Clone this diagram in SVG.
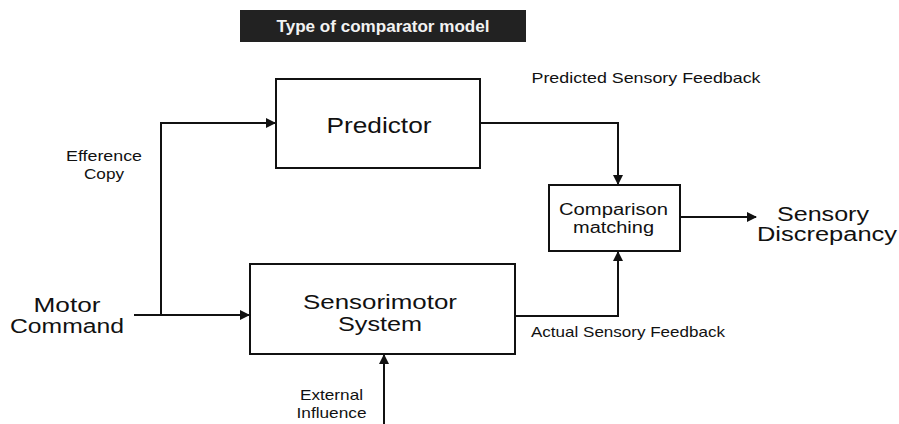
<svg xmlns="http://www.w3.org/2000/svg" width="899" height="424" viewBox="0 0 899 424">
<style>
.box{fill:#fff;stroke:#111;stroke-width:2}
.ln{fill:none;stroke:#111;stroke-width:2}
text{font-family:"Liberation Sans","Noto Sans",Arial,sans-serif;fill:#111;text-anchor:middle}
.big{font-size:21px}
.mid{font-size:16px}
.sm{font-size:15px}
.lbl{font-size:20px}
</style>
<defs>
<marker id="ah" markerWidth="10" markerHeight="10" refX="9" refY="5" orient="auto" markerUnits="userSpaceOnUse">
<path d="M0,0 L10,5 L0,10 z" fill="#111"/>
</marker>
</defs>
<rect x="240" y="10" width="286" height="32" fill="#222"/>
<text x="383" y="32" textLength="213" lengthAdjust="spacingAndGlyphs" style="font-size:16px;font-weight:bold;fill:#f2f2f2">Type of comparator model</text>

<g id="connectors">
<path class="ln" d="M134,315 L249,315" marker-end="url(#ah)"/>
<path class="ln" d="M161,315 L161,123 L275,123" marker-end="url(#ah)"/>
<path class="ln" d="M480,123 L618,123 L618,184" marker-end="url(#ah)"/>
<path class="ln" d="M515,316 L618,316 L618,252" marker-end="url(#ah)"/>
<path class="ln" d="M680,217 L756,217" marker-end="url(#ah)"/>
<path class="ln" d="M384,424 L384,355" marker-end="url(#ah)"/>
</g>

<g id="predictor">
<rect class="box" x="276" y="79" width="204" height="89"/>
<text class="big" x="379" y="132.5" textLength="105" lengthAdjust="spacingAndGlyphs" style="font-size:22px">Predictor</text>
</g>
<g id="sensorimotor">
<rect class="box" x="250" y="264" width="265" height="90"/>
<text class="big" x="380" y="309" textLength="154" lengthAdjust="spacingAndGlyphs">Sensorimotor</text>
<text class="big" x="380" y="331" textLength="84" lengthAdjust="spacingAndGlyphs">System</text>
</g>
<g id="comparison">
<rect class="box" x="549" y="185" width="131" height="66"/>
<text class="mid" x="613.5" y="215" textLength="109" lengthAdjust="spacingAndGlyphs">Comparison</text>
<text class="mid" x="613.5" y="233" textLength="81" lengthAdjust="spacingAndGlyphs">matching</text>
</g>
<g id="motor-command">
<text class="lbl" x="67" y="312" textLength="67" lengthAdjust="spacingAndGlyphs">Motor</text>
<text class="lbl" x="67" y="333" textLength="114" lengthAdjust="spacingAndGlyphs">Command</text>
</g>
<g id="sensory-discrepancy">
<text class="lbl" x="823" y="221" textLength="92" lengthAdjust="spacingAndGlyphs">Sensory</text>
<text class="lbl" x="827" y="241" textLength="140" lengthAdjust="spacingAndGlyphs">Discrepancy</text>
</g>
<g id="labels">
<text class="sm" x="104" y="161" textLength="76" lengthAdjust="spacingAndGlyphs">Efference</text>
<text class="sm" x="104" y="179" textLength="40" lengthAdjust="spacingAndGlyphs">Copy</text>
<text class="sm" x="646" y="83" textLength="229" lengthAdjust="spacingAndGlyphs">Predicted Sensory Feedback</text>
<text class="sm" x="628" y="336.5" textLength="194" lengthAdjust="spacingAndGlyphs">Actual Sensory Feedback</text>
<text class="sm" x="331.5" y="400" textLength="63" lengthAdjust="spacingAndGlyphs">External</text>
<text class="sm" x="331.5" y="418" textLength="70" lengthAdjust="spacingAndGlyphs">Influence</text>
</g>
</svg>
